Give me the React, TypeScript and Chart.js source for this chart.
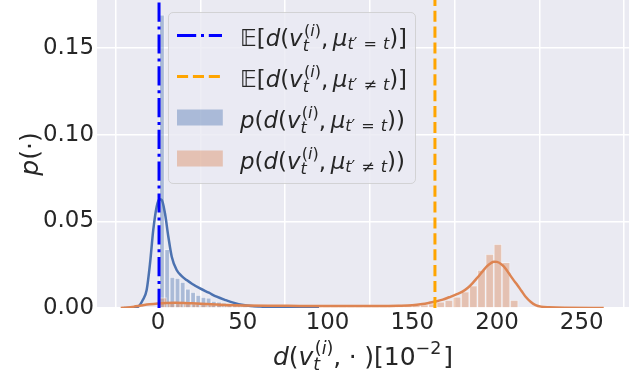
import React, { useEffect, useRef } from 'react';
import { Chart, registerables } from 'chart.js';

Chart.register(...registerables);

// ---- axis ranges & ticks ----
const X_MIN = -36.0;
const X_MAX = 277.9;
const Y_MAX = 0.1776;
const xTicks = [0, 50, 100, 150, 200, 250];
const xTickLabels = ['0', '50', '100', '150', '200', '250'];
const yTicks = [0, 0.05, 0.1, 0.15];
const yTickLabels = ['0.00', '0.05', '0.10', '0.15'];

// ---- histogram: same class (t' = t) ----
const blueBinCenters = [2.33, 5.39, 8.45, 11.51, 14.57, 17.63, 20.69, 23.75, 26.81, 29.87, 32.93, 35.99, 39.05, 42.11, 45.17, 48.23, 51.29, 54.35, 57.41, 60.47];
const blueHist = [0.169, 0.0339, 0.0178, 0.0172, 0.015, 0.011, 0.0092, 0.0075, 0.0063, 0.0058, 0.004, 0.0035, 0.003, 0.0026, 0.002, 0.0016, 0.0012, 0.0009, 0.0007, 0.0005];

// ---- histogram: other classes (t' != t) ----
const orangeBinCenters = [2.9, 7.72, 12.54, 17.36, 22.18, 27.0, 31.82, 36.64, 41.46, 46.28, 51.1, 55.92, 60.74, 65.56, 70.38, 75.2, 80.02, 84.84, 89.66, 94.48, 99.3, 104.12, 108.94, 113.76, 118.58, 123.4, 128.22, 133.04, 137.86, 142.68, 147.5, 152.32, 157.14, 161.96, 166.78, 171.6, 176.42, 181.24, 186.06, 190.88, 195.7, 200.52, 205.34, 210.16];
const orangeHist = [0.006, 0.0032, 0.003, 0.0028, 0.0026, 0.0024, 0.0021, 0.0019, 0.0017, 0.0016, 0.0015, 0.0014, 0.0014, 0.0013, 0.0013, 0.0012, 0.0012, 0.0012, 0.0011, 0.0011, 0.0011, 0.0011, 0.001, 0.0011, 0.001, 0.0011, 0.0011, 0.0012, 0.0012, 0.0013, 0.0014, 0.0016, 0.0019, 0.0025, 0.0036, 0.0046, 0.0065, 0.0094, 0.0129, 0.0219, 0.0311, 0.0369, 0.0264, 0.0046];

// ---- KDE curves ----
const blueKdeX = [-20, -14, -11.6, -9, -6.7, -4.7, -2.8, -0.8, 0.8, 2.2, 4.1, 6.1, 8.1, 11, 14, 16.9, 20, 24.8, 30, 34.6, 40, 44.4, 50.3, 55, 60.2, 70, 80, 95];
const blueKdeY = [0, 0.0002, 0.0008, 0.0046, 0.0104, 0.0258, 0.045, 0.0584, 0.0627, 0.0623, 0.0546, 0.0411, 0.0296, 0.0219, 0.0184, 0.0161, 0.014, 0.0113, 0.0088, 0.0065, 0.0045, 0.0031, 0.0017, 0.0011, 0.0008, 0.0004, 0.0002, 0];
const orangeKdeX = [-22, -18, -14, -10, -5, 0, 5, 10, 20, 28.6, 40, 50, 65, 83.5, 100, 120, 135, 142, 150, 156, 160, 163, 168, 171.8, 176, 179.6, 183, 185.5, 188.5, 191.4, 194, 196.3, 198.2, 200, 203.1, 205, 207, 209.5, 212, 214.5, 216.9, 220, 222.8, 226, 230.6, 240, 263];
const orangeKdeY = [0, 0.0003, 0.0008, 0.0014, 0.0021, 0.0026, 0.0029, 0.003, 0.0027, 0.0023, 0.0018, 0.0015, 0.0013, 0.0012, 0.0011, 0.0011, 0.0012, 0.0013, 0.0016, 0.0023, 0.003, 0.0036, 0.0048, 0.0062, 0.0078, 0.0094, 0.0118, 0.0142, 0.0176, 0.021, 0.024, 0.0258, 0.0267, 0.0266, 0.0248, 0.0228, 0.02, 0.0165, 0.0133, 0.0098, 0.0065, 0.0035, 0.0017, 0.0008, 0.0004, 0.0001, 0];

// ---- expected values (vertical lines) ----
const meanSame = 0.6;
const meanDiff = 163.4;

// ---- styles ----
const BLUE = '#4C72B0';
const ORANGE = '#DD8452';
const BLUE_FILL = 'rgba(76,114,176,0.4)';
const ORANGE_FILL = 'rgba(221,132,82,0.4)';
const BAR_EDGE = 'rgba(255,255,255,0.4)';
const TEXT = '#262626';
const BG = '#EAEAF2';
const FONT = '"DejaVu Sans"';
const TICK_SIZE = 22.9;
const LEGEND_SIZE = 22.9;
const LABEL_SIZE = 25;
const DASHDOT = [19.2, 4.8, 3, 4.8];
const DASHED = [11.1, 4.8];

// ---- tiny math-text renderer ----
type Tok = { s?: string; it?: boolean; sp?: number; sup?: Tok[]; sub?: Tok[] };

function fontFor(size: number, it?: boolean) {
  return `${it ? 'italic ' : ''}${size}px ${FONT}`;
}
function mathWidth(ctx: CanvasRenderingContext2D, toks: Tok[], size: number): number {
  let w = 0;
  for (const t of toks) {
    if (t.s) {
      ctx.font = fontFor(size, t.it);
      w += ctx.measureText(t.s).width;
    }
    if (t.sp) w += t.sp * size;
    if (t.sup || t.sub) {
      const ss = size * 0.7;
      w += Math.max(t.sup ? mathWidth(ctx, t.sup, ss) + (t.it ? 0.06 * size : 0) : 0, t.sub ? mathWidth(ctx, t.sub, ss) : 0);
    }
  }
  return w;
}
function drawMath(ctx: CanvasRenderingContext2D, toks: Tok[], x: number, y: number, size: number): number {
  let cx = x;
  for (const t of toks) {
    if (t.s) {
      ctx.font = fontFor(size, t.it);
      ctx.fillText(t.s, cx, y);
      cx += ctx.measureText(t.s).width;
    }
    if (t.sp) cx += t.sp * size;
    if (t.sup || t.sub) {
      const ss = size * 0.7;
      let w = 0;
      if (t.sup) {
        const ic = t.it ? 0.06 * size : 0;
        w = Math.max(w, ic + drawMath(ctx, t.sup, cx + ic, y - 0.42 * size, ss));
      }
      if (t.sub) w = Math.max(w, drawMath(ctx, t.sub, cx, y + (t.sup ? 0.22 : 0.17) * size, ss));
      cx += w;
    }
  }
  return cx - x;
}

const vTok: Tok = { s: 'v', it: true, sup: [{ s: '(' }, { s: 'i', it: true }, { s: ')' }], sub: [{ s: 't', it: true }] };
const muSub = (rel: string): Tok[] => [{ s: 't', it: true }, { s: '′' }, { sp: 0.38 }, { s: rel }, { sp: 0.38 }, { s: 't', it: true }];
const xTitle: Tok[] = [{ s: 'd', it: true }, { s: '(' }, vTok, { s: ',' }, { sp: 0.3 }, { s: '·' }, { sp: 0.3 }, { s: ')[10', sup: [{ s: '−2' }] }, { sp: 0.08 }, { s: ']' }];
const yTitle: Tok[] = [{ s: 'p', it: true }, { s: '(·)' }];
const legendLabels: Tok[][] = [
  [{ s: '𝔼[' }, { s: 'd', it: true }, { s: '(' }, vTok, { s: ',' }, { sp: 0.2 }, { s: 'μ', it: true, sub: muSub('=') }, { s: ')]' }],
  [{ s: '𝔼[' }, { s: 'd', it: true }, { s: '(' }, vTok, { s: ',' }, { sp: 0.2 }, { s: 'μ', it: true, sub: muSub('≠') }, { s: ')]' }],
  [{ s: 'p', it: true }, { s: '(' }, { s: 'd', it: true }, { s: '(' }, vTok, { s: ',' }, { sp: 0.2 }, { s: 'μ', it: true, sub: muSub('=') }, { s: '))' }],
  [{ s: 'p', it: true }, { s: '(' }, { s: 'd', it: true }, { s: '(' }, vTok, { s: ',' }, { sp: 0.2 }, { s: 'μ', it: true, sub: muSub('≠') }, { s: '))' }],
];
const legendHandles = [
  { kind: 'line', color: '#0000FF', dash: DASHDOT },
  { kind: 'line', color: '#FFA500', dash: DASHED },
  { kind: 'patch', color: BLUE_FILL },
  { kind: 'patch', color: ORANGE_FILL },
];

function roundRect(ctx: CanvasRenderingContext2D, x: number, y: number, w: number, h: number, r: number) {
  ctx.beginPath();
  ctx.moveTo(x + r, y);
  ctx.lineTo(x + w - r, y);
  ctx.arcTo(x + w, y, x + w, y + r, r);
  ctx.lineTo(x + w, y + h - r);
  ctx.arcTo(x + w, y + h, x + w - r, y + h, r);
  ctx.lineTo(x + r, y + h);
  ctx.arcTo(x, y + h, x, y + h - r, r);
  ctx.lineTo(x, y + r);
  ctx.arcTo(x, y, x + r, y, r);
  ctx.closePath();
}

const bgPlugin = {
  id: 'bgArea',
  beforeDraw(chart: any) {
    const { ctx, chartArea: a } = chart;
    ctx.save();
    ctx.fillStyle = BG;
    ctx.fillRect(a.left, a.top, a.right - a.left, a.bottom - a.top);
    ctx.restore();
  },
};

const decorPlugin = {
  id: 'decor',
  afterDraw(chart: any) {
    const { ctx, chartArea: a } = chart;
    ctx.save();
    ctx.fillStyle = TEXT;
    ctx.textBaseline = 'alphabetic';
    ctx.textAlign = 'left';
    // x title
    const xw = mathWidth(ctx, xTitle, LABEL_SIZE);
    drawMath(ctx, xTitle, (a.left + a.right) / 2 - xw / 2, 364.5, LABEL_SIZE);
    // y title
    const yw = mathWidth(ctx, yTitle, LABEL_SIZE);
    ctx.save();
    ctx.translate(38, (a.top + a.bottom) / 2);
    ctx.rotate(-Math.PI / 2);
    drawMath(ctx, yTitle, -yw / 2, 0, LABEL_SIZE);
    ctx.restore();

    // legend
    const lx = 168, ly = 12, lw = 247, lh = 171;
    ctx.fillStyle = 'rgba(234,234,242,0.8)';
    ctx.strokeStyle = 'rgba(204,204,204,0.8)';
    ctx.lineWidth = 1;
    roundRect(ctx, lx + 0.5, ly + 0.5, lw, lh, 4.6);
    ctx.fill();
    ctx.stroke();
    const rows = [35.5, 76.5, 117.5, 158.5];
    legendHandles.forEach((h, i) => {
      const cy = rows[i];
      if (h.kind === 'line') {
        ctx.save();
        ctx.strokeStyle = h.color;
        ctx.lineWidth = 3;
        ctx.setLineDash(h.dash as number[]);
        ctx.beginPath();
        ctx.moveTo(177, cy);
        ctx.lineTo(222, cy);
        ctx.stroke();
        ctx.restore();
      } else {
        ctx.fillStyle = h.color;
        ctx.fillRect(177, cy - 8, 45.8, 16);
      }
      ctx.fillStyle = TEXT;
      drawMath(ctx, legendLabels[i], 240, cy + 10, LEGEND_SIZE);
    });
    ctx.restore();
  },
};

const fixedTicks = (vals: number[]) => (s: any) => {
  s.ticks = vals.map((v) => ({ value: v }));
};

export default function App() {
  const ref = useRef<HTMLCanvasElement>(null);
  useEffect(() => {
    const canvas = ref.current;
    if (!canvas) return;
    const chart = new Chart(canvas, {
      type: 'bar',
      data: {
        datasets: [
          {
            type: 'bar',
            label: 'p(d(v, mu same))',
            data: blueBinCenters.map((x, i) => ({ x, y: blueHist[i] })),
            xAxisID: 'x',
            backgroundColor: BLUE_FILL,
            borderColor: BAR_EDGE,
            borderWidth: 1,
            barPercentage: 1,
            categoryPercentage: 1,
            grouped: false,
            order: 6,
          } as any,
          {
            type: 'bar',
            label: 'p(d(v, mu other))',
            data: orangeBinCenters.map((x, i) => ({ x, y: orangeHist[i] })),
            xAxisID: 'x2',
            backgroundColor: ORANGE_FILL,
            borderColor: BAR_EDGE,
            borderWidth: 1,
            barPercentage: 1,
            categoryPercentage: 1,
            grouped: false,
            order: 5,
          } as any,
          {
            type: 'line',
            label: 'kde same',
            data: blueKdeX.map((x, i) => ({ x, y: blueKdeY[i] })),
            xAxisID: 'x',
            borderColor: BLUE,
            borderWidth: 2.5,
            pointRadius: 0,
            fill: false,
            cubicInterpolationMode: 'monotone',
            order: 4,
          } as any,
          {
            type: 'line',
            label: 'kde other',
            data: orangeKdeX.map((x, i) => ({ x, y: orangeKdeY[i] })),
            xAxisID: 'x',
            borderColor: ORANGE,
            borderWidth: 2.5,
            pointRadius: 0,
            fill: false,
            cubicInterpolationMode: 'monotone',
            order: 3,
          } as any,
          {
            type: 'line',
            label: 'E same',
            data: [{ x: meanSame, y: 0 }, { x: meanSame, y: Y_MAX }],
            xAxisID: 'x',
            borderColor: '#0000FF',
            borderWidth: 3,
            borderDash: DASHDOT,
            pointRadius: 0,
            fill: false,
            tension: 0,
            order: 2,
          } as any,
          {
            type: 'line',
            label: 'E other',
            data: [{ x: meanDiff, y: 0 }, { x: meanDiff, y: Y_MAX }],
            xAxisID: 'x',
            borderColor: '#FFA500',
            borderWidth: 3,
            borderDash: DASHED,
            pointRadius: 0,
            fill: false,
            tension: 0,
            order: 1,
          } as any,
        ],
      },
      options: {
        animation: false,
        responsive: false,
        layout: { padding: { left: 0, right: 15, top: 0, bottom: 0 } },
        plugins: { legend: { display: false }, tooltip: { enabled: false } },
        scales: {
          x: {
            type: 'linear',
            min: X_MIN,
            max: X_MAX,
            offset: false,
            grid: { color: '#FFFFFF', lineWidth: 1.5, drawTicks: false },
            border: { display: false },
            ticks: {
              font: { family: 'DejaVu Sans', size: TICK_SIZE },
              color: TEXT,
              padding: 1,
              maxRotation: 0,
              autoSkip: false,
              callback: (_v: any, i: number) => xTickLabels[i],
            },
            afterBuildTicks: fixedTicks(xTicks),
            afterFit: (s: any) => {
              s.height = 65;
              s.paddingLeft = 0;
              s.paddingRight = 0;
            },
          },
          x2: {
            type: 'linear',
            display: false,
            min: X_MIN,
            max: X_MAX,
            offset: false,
            afterBuildTicks: fixedTicks(xTicks),
          },
          y: {
            type: 'linear',
            min: 0,
            max: Y_MAX,
            grid: { color: '#FFFFFF', lineWidth: 1.5, drawTicks: false },
            border: { display: false },
            ticks: {
              font: { family: 'DejaVu Sans', size: TICK_SIZE },
              color: TEXT,
              padding: 3,
              callback: (_v: any, i: number) => yTickLabels[i],
            },
            afterBuildTicks: fixedTicks(yTicks),
            afterFit: (s: any) => {
              s.width = 97;
              s.paddingTop = 0;
              s.paddingBottom = 0;
            },
          },
        },
      } as any,
      plugins: [bgPlugin, decorPlugin],
    });
    return () => chart.destroy();
  }, []);
  return (
    <div style={{ position: 'fixed', left: 0, top: 0, width: 644, height: 373, background: '#FFFFFF' }}>
      <canvas ref={ref} width={644} height={373} style={{ display: 'block', width: 644, height: 373 }} />
    </div>
  );
}
